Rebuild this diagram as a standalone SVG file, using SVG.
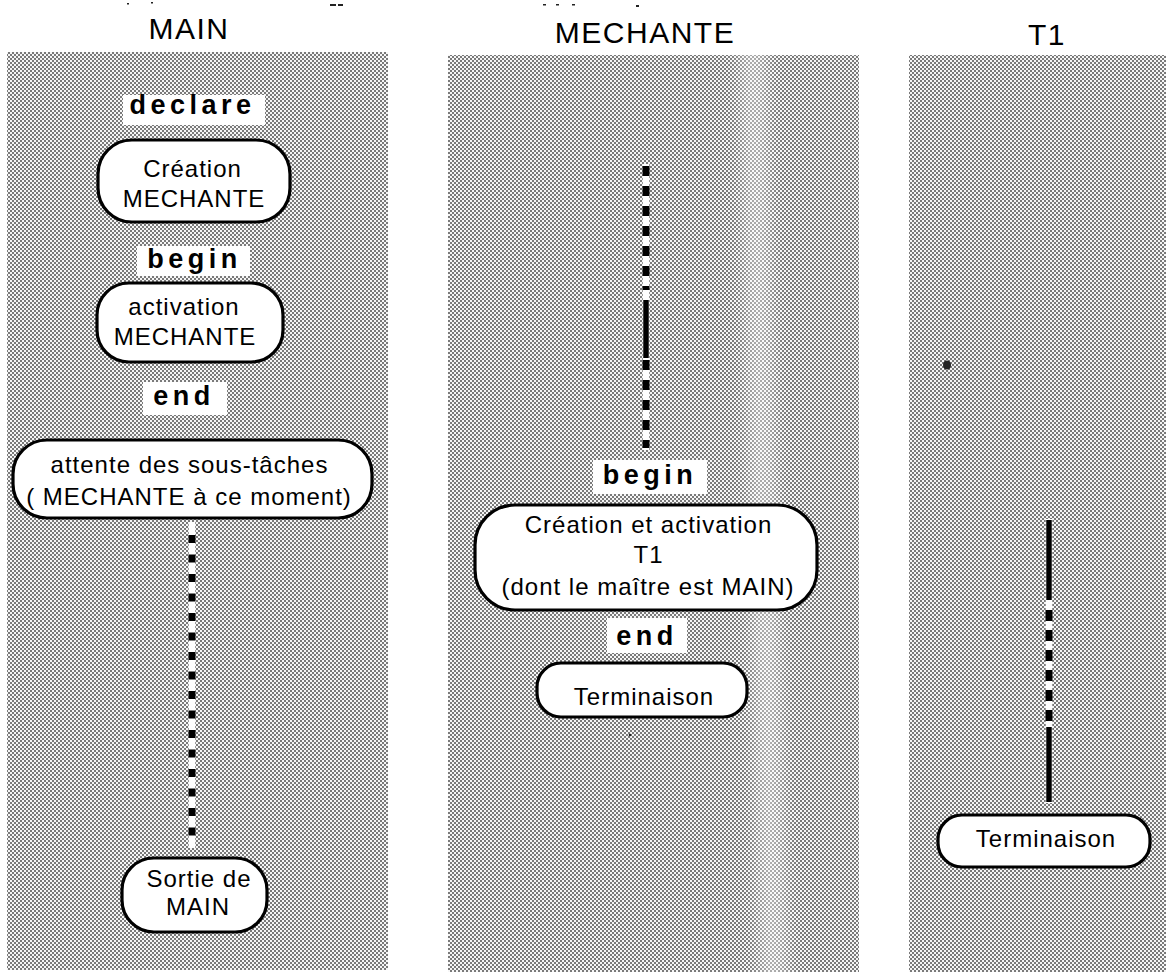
<svg xmlns="http://www.w3.org/2000/svg" width="1166" height="977" viewBox="0 0 1166 977">
  <defs>
    <!-- halftone screen used for the three task lanes -->
    <pattern id="halftone" width="4" height="4" patternUnits="userSpaceOnUse">
      <rect width="4" height="4" fill="#f6f6f6"/>
      <rect x="0" y="0" width="2" height="2" fill="#7a7a7a"/>
      <rect x="2" y="2" width="2" height="2" fill="#7a7a7a"/>
    </pattern>
    <filter id="soft" x="-50%" y="-5%" width="200%" height="110%">
      <feGaussianBlur stdDeviation="8"/>
    </filter>
    <clipPath id="laneMech">
      <rect x="448" y="55" width="411" height="917"/>
    </clipPath>
    <style>
      .lane { fill: url(#halftone); }
      .title { font-family: "Liberation Sans", Arial, Helvetica, sans-serif; font-size: 30px; letter-spacing: 1.5px; fill: #000; text-anchor: middle; }
      .kw-bg { fill: #ffffff; }
      .kw { font-family: "Liberation Sans", Arial, Helvetica, sans-serif; font-weight: bold; font-size: 27px; letter-spacing: 4.5px; fill: #000; text-anchor: middle; }
      .box { fill: #ffffff; stroke: #000; stroke-width: 3.2; }
      .label { font-family: "Liberation Sans", Arial, Helvetica, sans-serif; font-size: 24px; letter-spacing: 1px; fill: #000; text-anchor: middle; }
      .halo { stroke: #ffffff; stroke-width: 6.5; fill: none; }
      .wait { stroke: #000; stroke-width: 7; fill: none; }
      .run { stroke: #000; stroke-width: 5.5; fill: none; }
      .speck { fill: #222; }
    </style>
  </defs>

  <!-- page -->
  <rect width="1166" height="977" fill="#ffffff"/>

  <!-- stray marks along the top edge -->
  <g id="marks">
    <rect x="330" y="4" width="6" height="2" class="speck"/>
    <rect x="338" y="4" width="5" height="2" class="speck"/>
    <rect x="127" y="3" width="2" height="1.5" class="speck"/>
    <rect x="151" y="2" width="2" height="1.5" class="speck"/>
    <rect x="543" y="4" width="3" height="1.5" class="speck"/>
    <rect x="556" y="4" width="3" height="1.5" class="speck"/>
    <rect x="572" y="4" width="3" height="1.5" class="speck"/>
    <rect x="636" y="5" width="3" height="2" class="speck"/>
  </g>

  <!-- task lanes -->
  <g id="lane-main">
    <rect class="lane" x="7" y="52" width="381" height="918"/>
    <text class="title" x="189" y="39">MAIN</text>
  </g>
  <g id="lane-mechante">
    <rect class="lane" x="448" y="55" width="411" height="917"/>
    <polygon points="740,40 766,40 788,990 760,990" fill="#ffffff" opacity="0.4" filter="url(#soft)" clip-path="url(#laneMech)"/>
    <text class="title" x="645" y="43">MECHANTE</text>
  </g>
  <g id="lane-t1">
    <rect class="lane" x="909" y="55" width="257" height="917"/>
    <text class="title" x="1047" y="45">T1</text>
  </g>

  <!-- lifelines: dashed = waiting, solid = running -->
  <g id="connectors">
    <!-- MAIN waits for its sub-tasks -->
    <line class="halo" x1="192" y1="522" x2="192" y2="848"/>
    <line class="wait" x1="192" y1="526" x2="192" y2="846" stroke-dasharray="8 11.5" stroke-dashoffset="10.5"/>

    <!-- MECHANTE -->
    <line class="halo" x1="646" y1="164" x2="646" y2="450"/>
    <line class="wait" x1="646" y1="166" x2="646" y2="290" stroke-dasharray="10 10"/>
    <line class="run" x1="646" y1="300" x2="646" y2="358"/>
    <line class="wait" x1="646" y1="360" x2="646" y2="448" stroke-dasharray="10 10"/>

    <!-- T1 -->
    <line class="halo" x1="1049" y1="519" x2="1049" y2="803"/>
    <line class="run" x1="1049" y1="520" x2="1049" y2="600"/>
    <line class="wait" x1="1049" y1="610" x2="1049" y2="721" stroke-dasharray="11 9"/>
    <line class="run" x1="1049" y1="727" x2="1049" y2="802"/>
  </g>

  <!-- MAIN -->
  <g id="main-declare">
    <rect class="kw-bg" x="123" y="95" width="142" height="30"/>
    <text class="kw" x="192.5" y="114">declare</text>
  </g>
  <g id="main-creation">
    <rect class="box" x="98" y="140" width="192" height="82" rx="34" ry="34"/>
    <text class="label" x="192.5" y="177">Création</text>
    <text class="label" x="194" y="207">MECHANTE</text>
  </g>
  <g id="main-begin">
    <rect class="kw-bg" x="137" y="246" width="113" height="30"/>
    <text class="kw" x="194.5" y="268">begin</text>
  </g>
  <g id="main-activation">
    <rect class="box" x="97" y="283" width="186" height="79" rx="32" ry="32"/>
    <text class="label" x="184" y="315">activation</text>
    <text class="label" x="185" y="345">MECHANTE</text>
  </g>
  <g id="main-end">
    <rect class="kw-bg" x="143" y="382" width="84" height="33"/>
    <text class="kw" x="184" y="405">end</text>
  </g>
  <g id="main-attente">
    <rect class="box" x="13" y="440" width="359" height="78" rx="34" ry="34"/>
    <text class="label" x="189.5" y="473" letter-spacing="1.5">attente des sous-tâches</text>
    <text class="label" x="189" y="505" letter-spacing="1.5">( MECHANTE à ce moment)</text>
  </g>
  <g id="main-sortie">
    <rect class="box" x="122" y="858" width="145" height="74" rx="32" ry="32"/>
    <text class="label" x="199" y="887" letter-spacing="2">Sortie de</text>
    <text class="label" x="198" y="915">MAIN</text>
  </g>

  <!-- MECHANTE -->
  <g id="mechante-begin">
    <rect class="kw-bg" x="593" y="460" width="114" height="34"/>
    <text class="kw" x="650" y="484">begin</text>
  </g>
  <g id="mechante-creation-t1">
    <rect class="box" x="475" y="505" width="342" height="105" rx="40" ry="40"/>
    <text class="label" x="648.5" y="533">Création et activation</text>
    <text class="label" x="648.5" y="563">T1</text>
    <text class="label" x="648" y="595">(dont le maître est MAIN)</text>
  </g>
  <g id="mechante-end">
    <rect class="kw-bg" x="607" y="618" width="80" height="35"/>
    <text class="kw" x="647" y="645">end</text>
  </g>
  <g id="mechante-terminaison">
    <rect class="box" x="537" y="663" width="210" height="54" rx="24" ry="24"/>
    <text class="label" x="644" y="705">Terminaison</text>
  </g>
  <circle cx="630" cy="735" r="1.3" class="speck"/>

  <!-- T1 -->
  <ellipse cx="947" cy="365" rx="4" ry="4.5" class="speck"/>
  <g id="t1-terminaison">
    <rect class="box" x="938" y="815" width="212" height="52" rx="24" ry="24"/>
    <text class="label" x="1046" y="847">Terminaison</text>
  </g>
</svg>
